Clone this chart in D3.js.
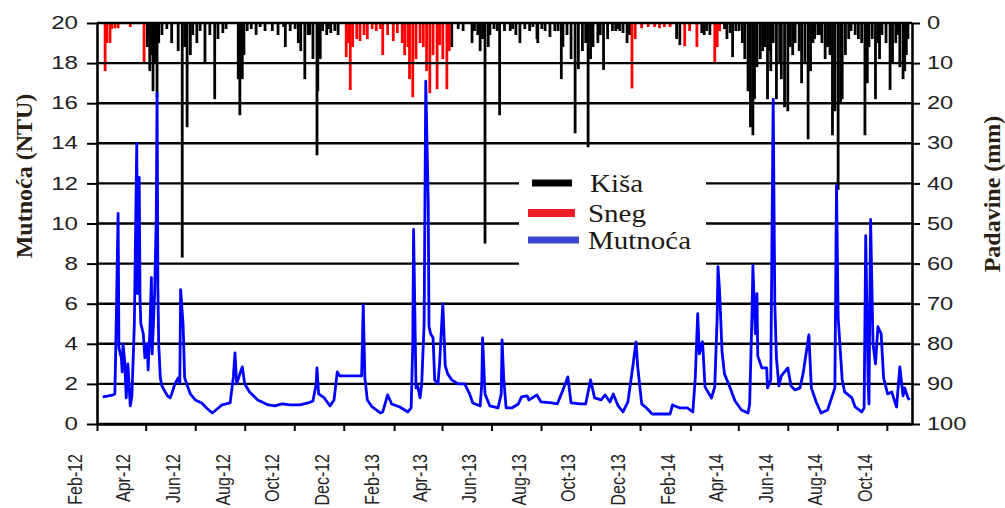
<!DOCTYPE html>
<html>
<head>
<meta charset="utf-8">
<script src="https://cdn.jsdelivr.net/npm/d3@7/dist/d3.min.js"></script>
<style>
  body { margin: 0; background: #fff; }
  svg { display: block; }
</style>
</head>
<body>
<div id="chart"></div>
<script>
// mutnoća (NTU) – dani od 1. feb 2012.
const turbDay = [7,14,20,22,23,26,27,30,31,32,34,36,38,41,43,46,49,50,52,53,54,57,59,62,63,65,67,68,70,71,73,74,75,76,78,80,84,87,90,92,96,100,102,103,106,108,115,121,129,135,142,148,154,164,168,170,172,176,179,182,188,198,211,219,228,238,250,260,266,270,271,273,280,287,292,296,299,312,326,328,330,333,339,349,352,358,363,373,383,387,389,390,393,395,398,400,403,405,408,409,411,414,416,420,422,426,429,432,437,445,453,459,463,472,474,475,478,484,494,498,499,501,504,511,519,523,530,532,542,547,560,567,574,580,584,595,602,608,613,621,626,632,636,642,648,654,660,664,666,671,677,684,694,706,709,718,727,734,737,740,742,746,749,757,761,764,765,767,770,773,780,786,794,802,804,807,808,811,813,814,819,825,826,830,833,835,837,840,843,847,851,855,860,866,870,877,880,886,892,900,909,911,913,918,921,930,934,942,945,947,950,951,953,956,959,962,966,969,974,979,985,989,993,995,999,1001];
const turbNtu = [1.35,1.4,1.45,1.5,3.5,10.5,3.8,3.3,2.6,4.0,3.2,1.3,3.0,0.9,1.4,5.0,14.0,6.5,12.3,6.3,5.0,4.5,3.3,4.0,2.7,4.5,7.3,3.5,5.5,6.5,10.3,16.5,6.8,4.0,2.3,1.9,1.6,1.4,1.3,1.5,2.0,2.3,2.0,6.7,5.0,2.3,1.5,1.2,1.05,0.8,0.55,0.75,0.95,1.05,2.35,3.55,2.0,2.5,2.85,2.0,1.6,1.2,0.95,0.9,1.0,0.95,0.95,1.05,1.15,2.0,2.8,1.5,1.3,0.9,1.2,2.6,2.4,2.4,2.4,5.95,2.3,1.2,0.85,0.55,0.6,1.45,1.0,0.85,0.6,0.8,4.0,9.7,1.8,1.9,1.3,2.0,5.0,17.1,11.1,4.85,4.5,4.3,2.2,2.0,3.0,6.0,2.9,2.5,2.2,2.0,2.0,1.5,1.05,0.9,2.0,4.3,1.5,0.9,0.8,1.5,4.2,2.3,0.8,0.8,1.0,1.35,1.4,1.2,1.45,1.1,1.05,1.0,1.7,2.35,1.05,1.0,1.0,2.2,1.3,1.2,1.45,1.1,1.5,0.9,0.6,1.1,2.85,4.1,2.9,1.0,0.8,0.5,0.5,0.5,0.95,0.8,0.8,0.6,2.3,5.5,3.5,4.1,1.85,1.3,1.85,5.35,7.85,6.6,3.6,2.5,1.8,1.15,0.7,0.55,1.0,5.7,7.9,4.5,6.5,3.4,2.8,2.8,1.8,2.2,16.2,6.0,3.3,1.9,2.4,2.6,2.8,1.9,1.7,1.8,2.55,4.45,1.8,1.1,0.55,0.7,1.8,11.9,5.35,2.2,1.6,1.3,0.85,0.6,0.8,9.4,2.0,1.0,10.2,4.0,3.0,4.85,4.5,2.3,1.5,1.6,0.85,2.85,1.4,1.8,1.3,1.2];

// kiša (mm)
const rainDay = [62,63,65,68,69,71,74,76,80,86,92,100,105,108,111,115,118,123,127,133,139,145,149,155,159,174,176,179,181,185,190,196,201,207,216,223,230,232,238,244,248,251,256,260,262,266,271,272,275,278,283,285,288,293,297,
    437,445,451,462,465,469,472,475,478,482,484,489,493,496,502,509,512,516,521,527,533,537,542,543,548,552,558,564,568,572,574,579,584,589,593,598,602,605,608,611,617,620,624,629,635,639,642,644,648,653,656,
    714,718,745,748,751,755,773,776,780,783,787,791,795,798,802,805,808,810,813,817,820,823,826,829,830,833,837,841,843,847,851,854,857,860,865,868,872,876,879,882,884,888,890,893,897,900,903,906,909,913,916,918,922,926,929,934,938,942,946,949,951,955,959,962,964,967,972,977,980,984,987,989,993,995,997,999];
const rainMm = [6,3,12,8,17,10,18.5,5,3,1.5,5,7,58.5,6,26,8,3,5,2,10,3,19,4,2.5,1.5,14,23,14,8,2,1.5,3,1,2,2,3,1,6,2,1.5,5,7,14,3,3,9,33,17,9,2,3,1.5,2.5,2,3,
    6,1.5,2,5,2,3,7,4,55,6,3,1.5,2,23,2,2,1.5,3,5,1.5,2,1,4,5,1.5,2,3.5,2,2,14,6,3,9,27.5,11.5,7,5,31,9,6,5,3,11.7,4,2,2,1.5,2,2.5,5,3,
    4,5.5,2.5,3,2,3,1.5,4,2.5,8.5,2,2,5,9,17,26,28,19,11,9,7,6,19,7,12,5,19,10,14,21,22,6,8,5,7,15,10,29,12,5,4,3,3,5,9,6,8,28,22,41.6,20,19,8,4,2,3,4,5,28,15,6,4,19,5,9,3,5,16.7,10,5,3,11,14,12,8,4];

// sneg (mm)
const snowDay = [10,12,16,18,22,26,41,58,307,309,312,315,320,324,329,333,339,344,349,352,358,365,370,376,379,383,385,389,393,398,402,406,410,414,419,422,426,431,434,659,663,671,679,687,693,699,706,724,730,739,761,764,767];
const snowMm = [12,5,5,1.5,1.3,1.3,1,10,8.5,5,16.7,6,4,4.5,3,4,1.5,2,1.5,8,3,4.5,2.5,5,8,6,14,18.5,9,5,6,12,17.5,8,16.5,5.5,9,16.5,7,16.3,4,1.3,1,1,1.3,1,1,5.8,2,6,10,6,2];

const ntuTicks = [0,2,4,6,8,10,12,14,16,18,20];
const mmTicks = [0,10,20,30,40,50,60,70,80,90,100];
const legendNames = ['Kiša', 'Sneg', 'Mutnoća'];
const legendColors = ['#000000', '#ee1c24', '#3f48cc'];

const startDate = new Date(2012, 1, 1);
const endDate = new Date(2014, 10, 1);
const dayToDate = d => d3.timeDay.offset(startDate, d);

const plot = { left: 97, right: 912, top: 23, bottom: 424 };

const svg = d3.select('#chart').append('svg')
    .attr('width', 1005)
    .attr('height', 508);

const x = d3.scaleTime().domain([startDate, endDate]).range([plot.left, plot.right]);
const yNtu = d3.scaleLinear().domain([0, 20]).range([plot.bottom, plot.top]);
const yMm = d3.scaleLinear().domain([0, 100]).range([plot.top, plot.bottom]);

// padavine - stubići od vrha nadole
function drawBars(days, values, color) {
    svg.append('g')
        .selectAll('line')
        .data(days.map((d, i) => ({ day: d, mm: values[i] })))
        .enter().append('line')
        .attr('x1', d => x(dayToDate(d.day)))
        .attr('x2', d => x(dayToDate(d.day)))
        .attr('y1', yMm(0))
        .attr('y2', d => yMm(d.mm))
        .attr('stroke', color)
        .attr('stroke-width', 2.8);
}
drawBars(rainDay, rainMm, '#000');
drawBars(snowDay, snowMm, '#ff0000');

// horizontalne linije mreže
svg.append('g')
    .selectAll('line')
    .data(ntuTicks)
    .enter().append('line')
    .attr('x1', plot.left)
    .attr('x2', plot.right)
    .attr('y1', d => yNtu(d))
    .attr('y2', d => yNtu(d))
    .attr('stroke', '#000')
    .attr('stroke-width', 2.4);

// mutnoća
const line = d3.line()
    .x(d => x(dayToDate(d)))
    .y((d, i) => yNtu(turbNtu[i]));

svg.append('path')
    .datum(turbDay)
    .attr('d', line)
    .attr('fill', 'none')
    .attr('stroke', '#0000ff')
    .attr('stroke-width', 2.8)
    .attr('stroke-linejoin', 'round');

// leva osa
const axisL = svg.append('g')
    .attr('transform', `translate(${plot.left},0)`)
    .call(d3.axisLeft(yNtu).tickValues(ntuTicks).tickSize(10).tickSizeOuter(0));
axisL.selectAll('text')
    .attr('x', -19 / 1.38)
    .attr('transform', 'scale(1.38,1)');

// desna osa
const axisR = svg.append('g')
    .attr('transform', `translate(${plot.right},0)`)
    .call(d3.axisRight(yMm).tickValues(mmTicks).tickSize(8).tickSizeOuter(0));
axisR.selectAll('text')
    .attr('x', 15 / 1.35)
    .attr('transform', 'scale(1.35,1)');

[axisL, axisR].forEach(a => {
    a.select('.domain').attr('stroke', '#000').attr('stroke-width', 2.6);
    a.selectAll('.tick line').attr('stroke', '#000').attr('stroke-width', 2);
    a.selectAll('text')
        .attr('font-family', "'Liberation Sans', Arial, sans-serif")
        .attr('font-size', 17.5)
        .attr('fill', '#222');
});

// x osa
const xTicks = d3.timeMonth.range(startDate, new Date(2014, 9, 2), 2);
const axisB = svg.append('g')
    .attr('transform', `translate(0,${plot.bottom})`)
    .call(d3.axisBottom(x).tickValues(xTicks).tickSize(7).tickSizeOuter(0).tickFormat(d3.timeFormat('%b-%y')));
axisB.select('.domain').attr('stroke', '#000').attr('stroke-width', 2.6);
axisB.selectAll('.tick line').attr('stroke', '#000').attr('stroke-width', 2);
axisB.selectAll('text')
    .attr('y', 0)
    .attr('dy', '0.35em')
    .attr('text-anchor', 'end')
    .attr('transform', 'translate(-23,30) rotate(-90) scale(1,1.3)')
    .attr('font-family', "'Liberation Sans', Arial, sans-serif")
    .attr('font-size', 16)
    .attr('fill', '#222');

// legenda
const legend = svg.append('g');
legend.append('rect')
    .attr('x', 519).attr('y', 160)
    .attr('width', 187).attr('height', 112)
    .attr('fill', '#fff');

legendNames.forEach((name, i) => {
    const ly = [183, 213, 240][i];
    legend.append('line')
        .attr('x1', i === 0 ? 532 : 528)
        .attr('x2', i === 0 ? 572 : (i === 1 ? 575 : 579))
        .attr('y1', ly).attr('y2', ly)
        .attr('stroke', legendColors[i])
        .attr('stroke-width', i === 1 ? 8 : 7);
    legend.append('text')
        .attr('transform', `translate(${i === 0 ? 590 : 588},${ly + 9}) scale(1.16,1)`)
        .attr('font-family', "'Liberation Serif', 'Times New Roman', serif")
        .attr('font-size', 25)
        .attr('fill', '#1d1a16')
        .text(name);
});

// naslovi osa
svg.append('text')
    .attr('transform', 'translate(32,176) rotate(-90)')
    .attr('text-anchor', 'middle')
    .attr('font-family', "'Liberation Serif', 'Times New Roman', serif")
    .attr('font-weight', 'bold')
    .attr('font-size', 24)
    .attr('fill', '#2a1d12')
    .text('Mutnoća (NTU)');

svg.append('text')
    .attr('transform', 'translate(1000,194) rotate(-90)')
    .attr('text-anchor', 'middle')
    .attr('font-family', "'Liberation Serif', 'Times New Roman', serif")
    .attr('font-weight', 'bold')
    .attr('font-size', 24)
    .attr('fill', '#2a1d12')
    .text('Padavine (mm)');
</script>
</body>
</html>
